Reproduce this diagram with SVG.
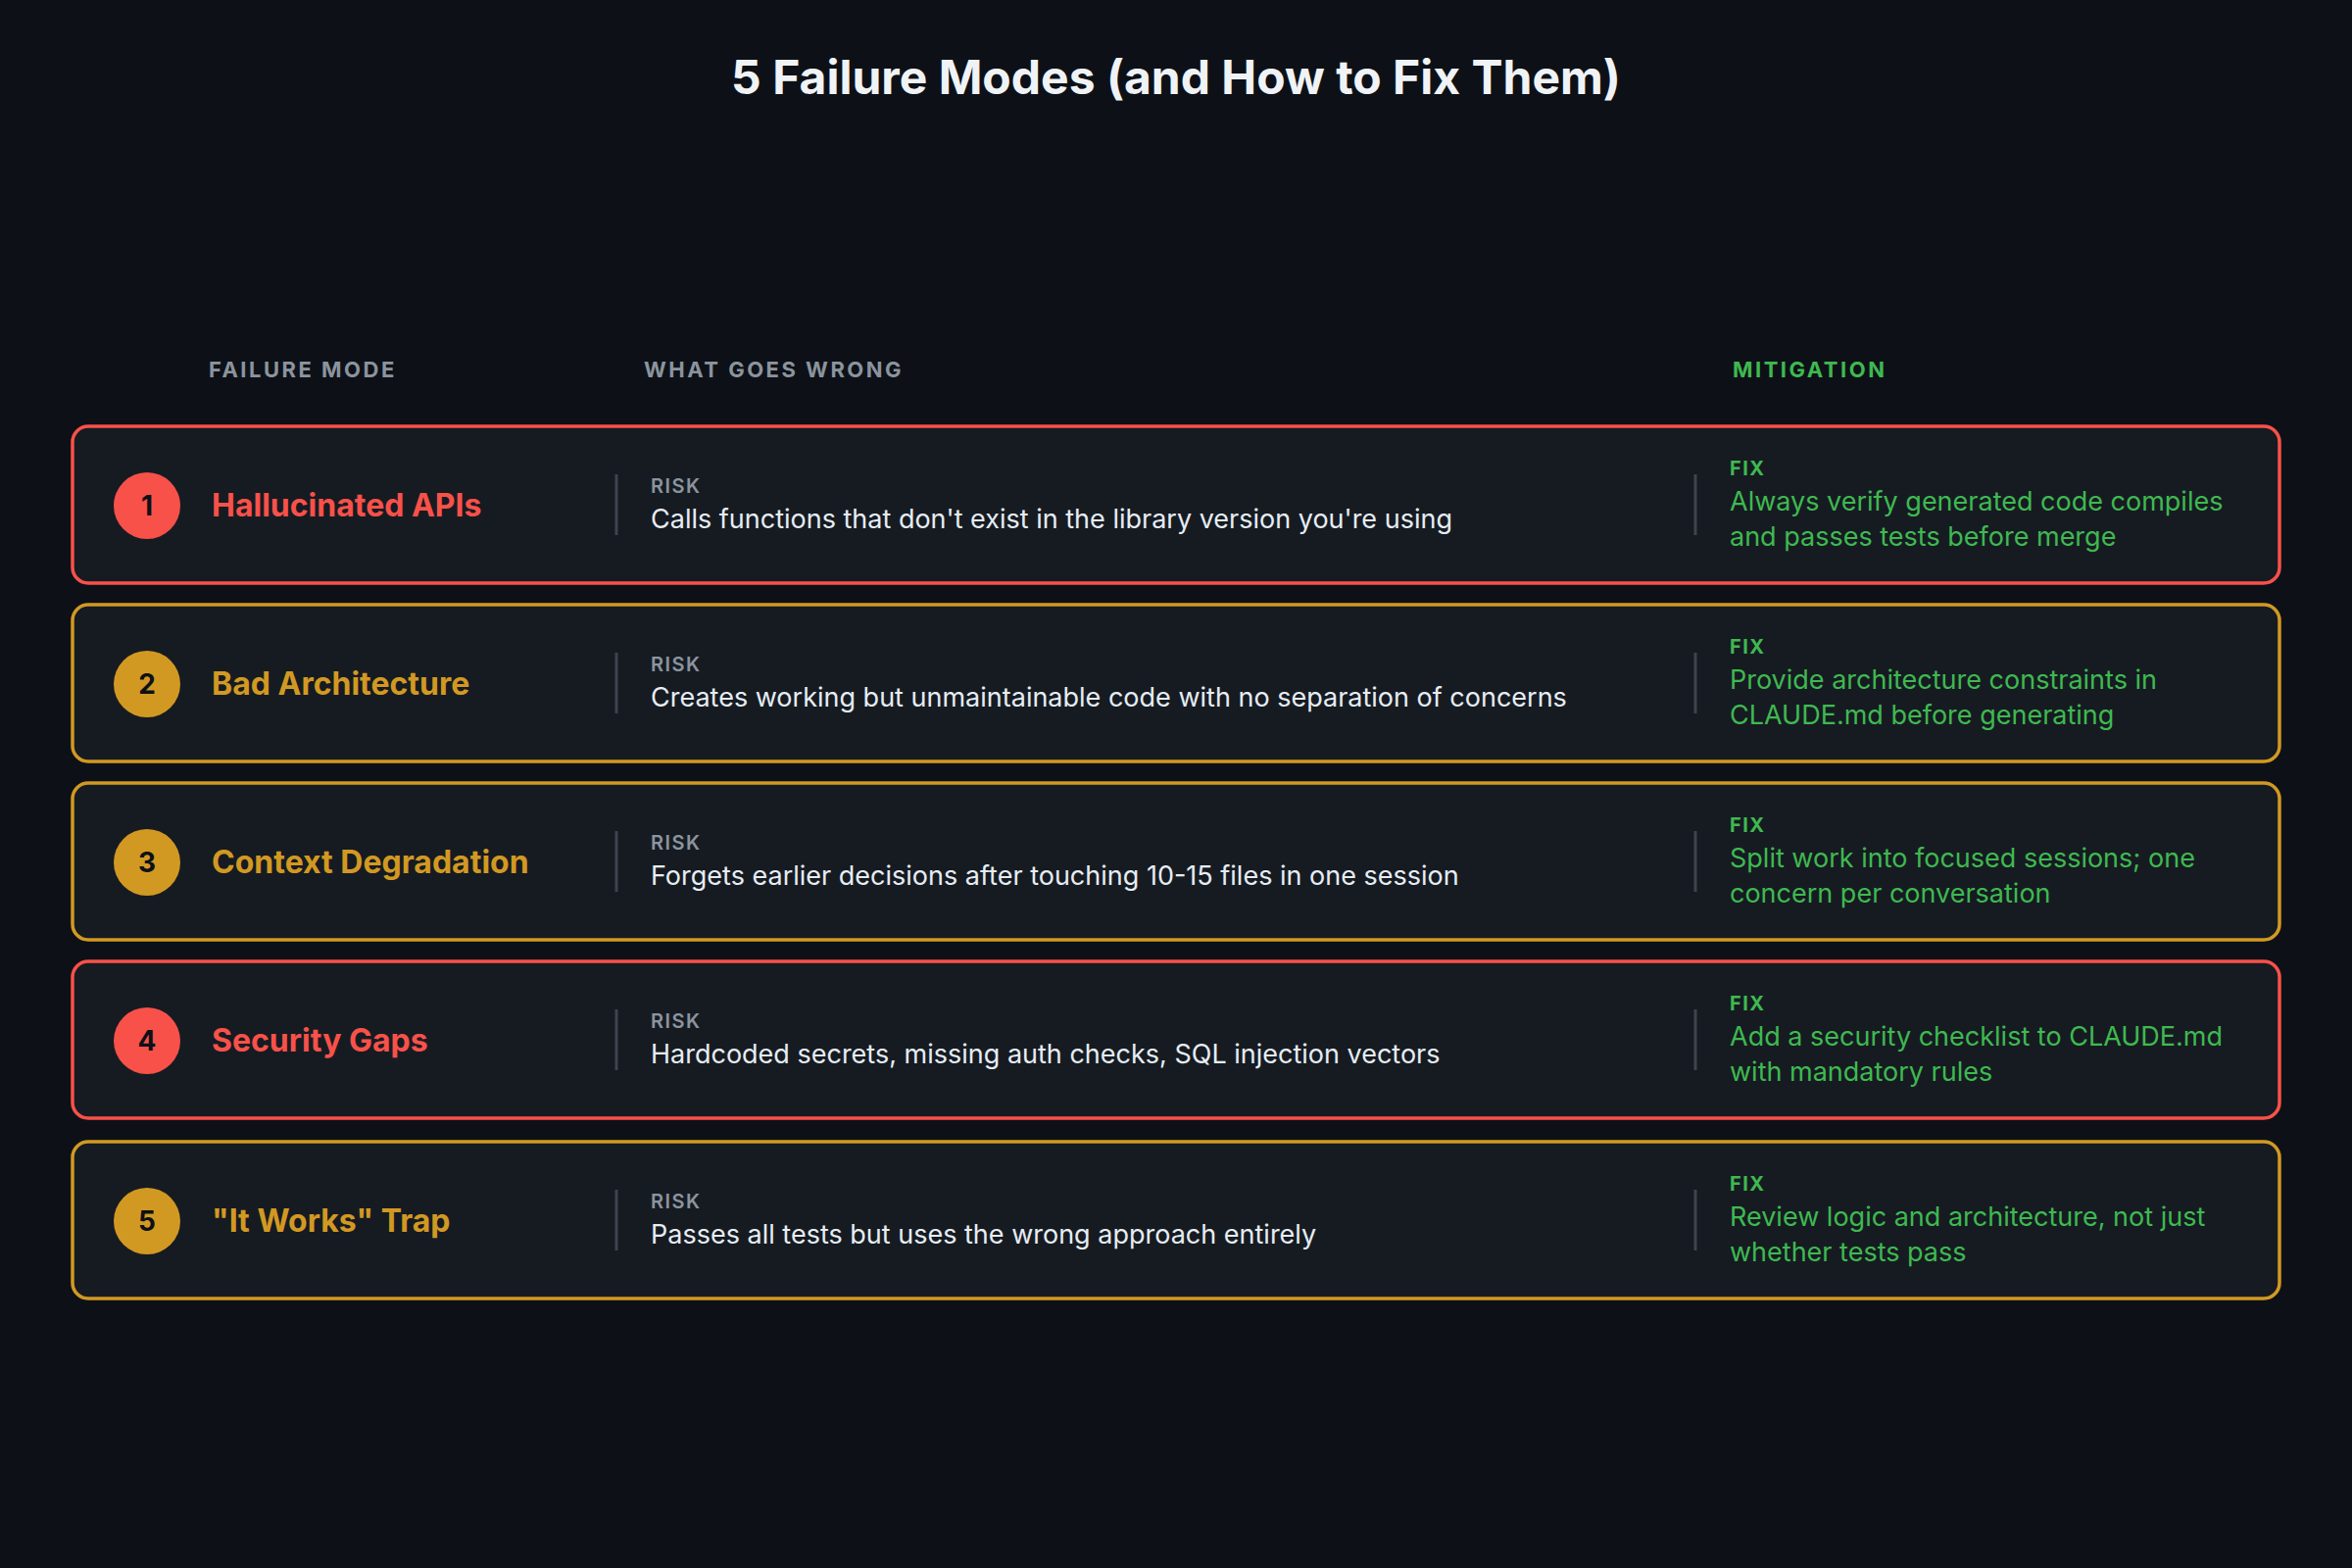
<svg xmlns="http://www.w3.org/2000/svg" width="2400" height="1600" viewBox="0 0 2400 1600">
<style>
text{font-family:Inter,"Liberation Sans",sans-serif}
.title{font-size:48px;font-weight:700;fill:#f0f3f6}
.hdr{font-size:22px;font-weight:700;letter-spacing:2.5px;fill:#8b949e}
.row{fill:#161b22;stroke-width:3.5}
.red{stroke:#f85149}.amb{stroke:#d29922}
.name{font-size:32px;font-weight:700}
.num{font-size:28px;font-weight:700;fill:#0d1117;text-anchor:middle}
.div{stroke:#3d444d;stroke-width:3}
.lab{font-size:20px;font-weight:600;letter-spacing:1.5px;fill:#8b949e}
.risk{font-size:27px;fill:#e6edf3}
.fixl{font-size:20px;font-weight:700;letter-spacing:1.5px;fill:#3fb950}
.fix{font-size:27px;fill:#3fb950}
</style>
<rect width="2400" height="1600" fill="#0d1117"/>
<text class="title" x="1200" y="96" text-anchor="middle">5 Failure Modes (and How to Fix Them)</text>
<text class="hdr" x="213" y="385">FAILURE MODE</text>
<text class="hdr" x="657" y="385">WHAT GOES WRONG</text>
<text class="hdr" x="1768" y="385" fill="#3fb950" style="fill:#3fb950">MITIGATION</text>

<g id="row1" transform="translate(0,435)">
<rect class="row red" x="74" y="0" width="2252" height="160" rx="16"/>
<circle cx="150" cy="81" r="34" fill="#f85149"/><text class="num" x="150" y="91">1</text>
<text class="name" x="216" y="92" fill="#f85149">Hallucinated APIs</text>
<line class="div" x1="629" y1="49" x2="629" y2="111"/>
<text class="lab" x="664" y="68">RISK</text>
<text class="risk" x="664" y="104">Calls functions that don't exist in the library version you're using</text>
<line class="div" x1="1730" y1="49" x2="1730" y2="111"/>
<text class="fixl" x="1765" y="50">FIX</text>
<text class="fix" x="1765" y="86">Always verify generated code compiles</text>
<text class="fix" x="1765" y="122">and passes tests before merge</text>
</g>
<g id="row2" transform="translate(0,617)">
<rect class="row amb" x="74" y="0" width="2252" height="160" rx="16"/>
<circle cx="150" cy="81" r="34" fill="#d29922"/><text class="num" x="150" y="91">2</text>
<text class="name" x="216" y="92" fill="#d29922">Bad Architecture</text>
<line class="div" x1="629" y1="49" x2="629" y2="111"/>
<text class="lab" x="664" y="68">RISK</text>
<text class="risk" x="664" y="104">Creates working but unmaintainable code with no separation of concerns</text>
<line class="div" x1="1730" y1="49" x2="1730" y2="111"/>
<text class="fixl" x="1765" y="50">FIX</text>
<text class="fix" x="1765" y="86">Provide architecture constraints in</text>
<text class="fix" x="1765" y="122">CLAUDE.md before generating</text>
</g>
<g id="row3" transform="translate(0,799)">
<rect class="row amb" x="74" y="0" width="2252" height="160" rx="16"/>
<circle cx="150" cy="81" r="34" fill="#d29922"/><text class="num" x="150" y="91">3</text>
<text class="name" x="216" y="92" fill="#d29922">Context Degradation</text>
<line class="div" x1="629" y1="49" x2="629" y2="111"/>
<text class="lab" x="664" y="68">RISK</text>
<text class="risk" x="664" y="104">Forgets earlier decisions after touching 10-15 files in one session</text>
<line class="div" x1="1730" y1="49" x2="1730" y2="111"/>
<text class="fixl" x="1765" y="50">FIX</text>
<text class="fix" x="1765" y="86">Split work into focused sessions; one</text>
<text class="fix" x="1765" y="122">concern per conversation</text>
</g>
<g id="row4" transform="translate(0,981)">
<rect class="row red" x="74" y="0" width="2252" height="160" rx="16"/>
<circle cx="150" cy="81" r="34" fill="#f85149"/><text class="num" x="150" y="91">4</text>
<text class="name" x="216" y="92" fill="#f85149">Security Gaps</text>
<line class="div" x1="629" y1="49" x2="629" y2="111"/>
<text class="lab" x="664" y="68">RISK</text>
<text class="risk" x="664" y="104">Hardcoded secrets, missing auth checks, SQL injection vectors</text>
<line class="div" x1="1730" y1="49" x2="1730" y2="111"/>
<text class="fixl" x="1765" y="50">FIX</text>
<text class="fix" x="1765" y="86">Add a security checklist to CLAUDE.md</text>
<text class="fix" x="1765" y="122">with mandatory rules</text>
</g>
<g id="row5" transform="translate(0,1165)">
<rect class="row amb" x="74" y="0" width="2252" height="160" rx="16"/>
<circle cx="150" cy="81" r="34" fill="#d29922"/><text class="num" x="150" y="91">5</text>
<text class="name" x="216" y="92" fill="#d29922">"It Works" Trap</text>
<line class="div" x1="629" y1="49" x2="629" y2="111"/>
<text class="lab" x="664" y="68">RISK</text>
<text class="risk" x="664" y="104">Passes all tests but uses the wrong approach entirely</text>
<line class="div" x1="1730" y1="49" x2="1730" y2="111"/>
<text class="fixl" x="1765" y="50">FIX</text>
<text class="fix" x="1765" y="86">Review logic and architecture, not just</text>
<text class="fix" x="1765" y="122">whether tests pass</text>
</g>
<g id="connectors"/>
</svg>
